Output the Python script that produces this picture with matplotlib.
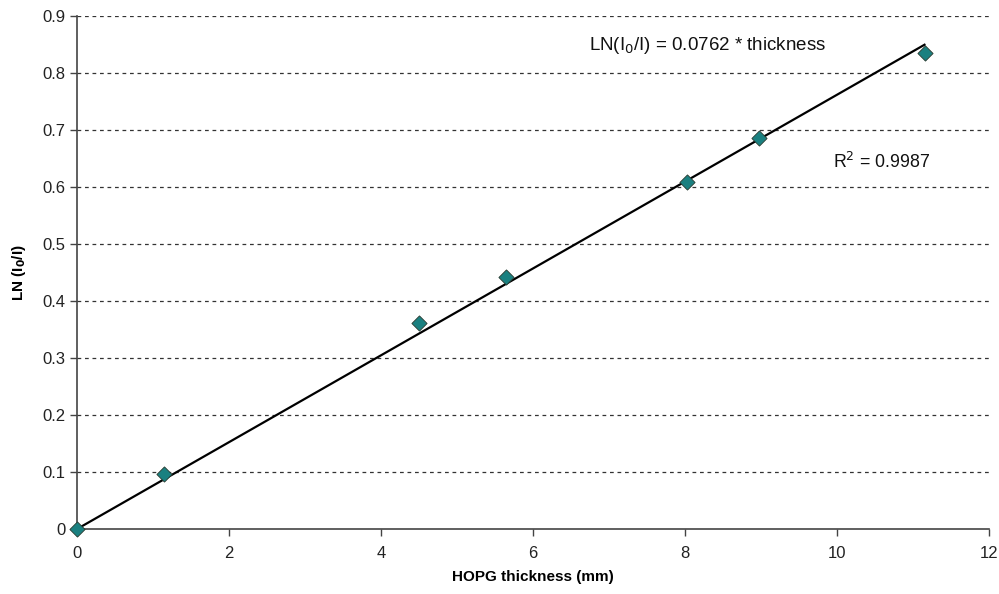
import matplotlib
matplotlib.use("Agg")
import matplotlib.pyplot as plt
import numpy as np

plt.rcParams['font.family'] = ['Liberation Sans', 'DejaVu Sans']

thickness = [0.0, 1.15, 4.5, 5.65, 8.03, 8.97, 11.15]
ln_ratio = [0.0, 0.097, 0.362, 0.443, 0.608, 0.686, 0.835]
slope = 0.0762
x_ticks = [0, 2, 4, 6, 8, 10, 12]
y_ticks = [0, 0.1, 0.2, 0.3, 0.4, 0.5, 0.6, 0.7, 0.8, 0.9]
y_tick_labels = ['0', '0.1', '0.2', '0.3', '0.4', '0.5', '0.6', '0.7', '0.8', '0.9']

fig = plt.figure(figsize=(9.99, 5.94), dpi=100)
ax = fig.add_axes([0.0771, 0.1094, 0.913, 0.8636])

ax.set_xlim(0, 12)
ax.set_ylim(0, 0.9)
ax.set_xticks(x_ticks)
ax.set_yticks(y_ticks)
ax.set_yticklabels(y_tick_labels)

for y in y_ticks[1:]:
    ax.axhline(y, color='#333333', lw=0.9, ls=(0, (3, 3)), zorder=1)

xfit = np.array([0, max(thickness)])
ax.plot(xfit, slope * xfit, color='black', lw=1.6, zorder=2)
ax.scatter(thickness, ln_ratio, marker='D', s=60, color='#1a8080',
           edgecolors='#2a3a30', linewidths=0.6, zorder=3, clip_on=False)

for s in ['top', 'right']:
    ax.spines[s].set_visible(False)
for s in ['left', 'bottom']:
    ax.spines[s].set_color('#444444')
    ax.spines[s].set_linewidth(1.2)

ax.tick_params(axis='both', colors='#444444', labelcolor='#222222', labelsize=12,
               length=5, width=1.0)
ax.tick_params(axis='x', pad=7)

ax.set_xlabel('HOPG thickness (mm)', fontsize=11, fontweight='bold', labelpad=7)
ax.set_ylabel('LN (I$_\\mathbf{0}$/I)', fontsize=11, fontweight='bold', labelpad=10)

ax.text(8.3, 0.848, 'LN(I$_0$/I) = 0.0762 * thickness', fontsize=13.5,
        ha='center', va='center', color='#111111')
ax.text(10.58, 0.644, 'R$^2$ = 0.9987', fontsize=12.8, ha='center', va='center',
        color='#111111')

fig.savefig('out.png', dpi=100)
